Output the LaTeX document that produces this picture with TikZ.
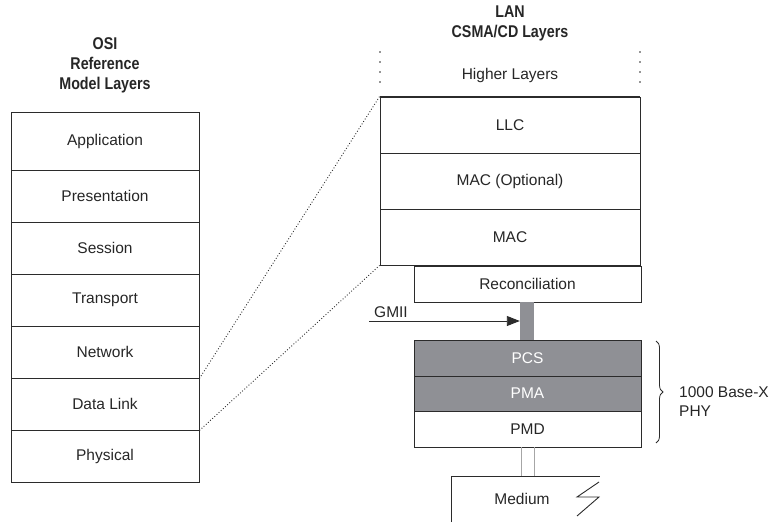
\documentclass[tikz,border=0pt]{standalone}
\usepackage{fontspec}
\setmainfont{Liberation Sans}
\newfontfamily\condfont{Liberation Sans}[FakeStretch=0.84]
\usetikzlibrary{arrows.meta,decorations.pathreplacing}
\definecolor{edge}{HTML}{2B2B2B}
\definecolor{layergray}{HTML}{8F9095}
\begin{document}
\begin{tikzpicture}[x=1pt,y=-1pt,
  lay/.style={draw=edge,line width=0.9pt,rectangle,inner sep=0pt,font=\fontsize{15.5}{17}\selectfont,text=black!85},
  osilay/.style={lay,minimum width=188,minimum height=52},
  lanlay/.style={lay,minimum width=260,minimum height=56},
  phylay/.style={lay,minimum width=227,minimum height=36},
  graylay/.style={phylay,fill=layergray,text=white},
  title/.style={align=center,font=\condfont\bfseries\fontsize{17}{20}\selectfont,text=black!85},
  plain/.style={font=\fontsize{15.5}{19}\selectfont,text=black!85,inner sep=0pt},
  dotline/.style={dotted,line width=0.9pt,draw=edge},
  pdot/.style={circle,fill=edge,inner sep=0pt,minimum size=1.8}
]
\useasboundingbox (0,0) rectangle (784,522);

% titles
\node[title] (osititle) at (105,65) {OSI\\Reference\\Model Layers};
\node[title] (lantitle) at (510,23) {LAN\\CSMA/CD Layers};

% OSI stack
\node[osilay,minimum height=58] (app) at (105,141) {Application};
\node[osilay] (pres) at (105,196) {Presentation};
\node[osilay] (sess) at (105,248) {Session};
\node[osilay] (trans) at (105,300) {Transport};
\node[osilay] (net) at (105,352) {Network};
\node[osilay] (dl) at (105,404) {Data Link};
\node[osilay] (phys) at (105,456) {Physical};

% LAN stack
\node[plain] (higher) at (510,75) {Higher Layers};
\node[lanlay] (llc) at (510,125) {LLC};
\node[lanlay] (macopt) at (510,181) {MAC (Optional)};
\node[lanlay] (mac) at (510,237) {MAC};
\draw[edge,line width=1.6pt] (llc.north west) -- (llc.north east);
\foreach \yy in {52,62,72,82}{
  \node[pdot] at (380,\yy) {};
  \node[pdot] at (640,\yy) {};
}

% mapping lines
\draw[dotline] (net.south east) -- (llc.north west);
\draw[dotline] (dl.south east) -- (mac.south west);

% Reconciliation and PHY
\node[phylay] (recon) at (527.5,284) {Reconciliation};
\node[rectangle,fill=layergray,inner sep=0pt,minimum width=14,minimum height=38] (gmiibar) at (527,321) {};
\node[graylay] (pcs) at (527.5,358) {PCS};
\node[graylay,minimum height=35] (pma) at (527.5,393.5) {PMA};
\node[phylay] (pmd) at (527.5,429) {PMD};

% GMII arrow
\coordinate (gmiistart) at (369,321);
\node[plain,anchor=south west] (gmiilabel) at (374,318) {GMII};
\draw[edge,line width=0.9pt,-{Triangle[length=13pt,width=10pt]}] (gmiistart) -- (gmiibar.west);

% brace
\coordinate (bracetop) at (656,341);
\coordinate (bracebot) at (656,443);
\draw[edge,line width=0.8pt,decorate,decoration={brace,amplitude=7pt}] (bracetop) -- (bracebot);
\node[plain,anchor=west,align=left] (phylabel) at (679,402) {1000 Base-X\\PHY};

% medium
\coordinate (mtl) at (451,476);
\coordinate (mtr) at (600,476);
\coordinate (mbl) at (451,522);
\draw[edge,line width=0.9pt] (mbl) -- (mtl) -- (mtr);
\draw[edge,line width=0.9pt] (599,482) -- (577,497) -- (599,497) -- (577,516);
\node[plain] (medium) at (522,499) {Medium};
\draw[black!35,line width=0.9pt] (pmd.south -| 521,0) -- (mtl -| 521,0);
\draw[black!35,line width=0.9pt] (pmd.south -| 534,0) -- (mtl -| 534,0);
\end{tikzpicture}
\end{document}
